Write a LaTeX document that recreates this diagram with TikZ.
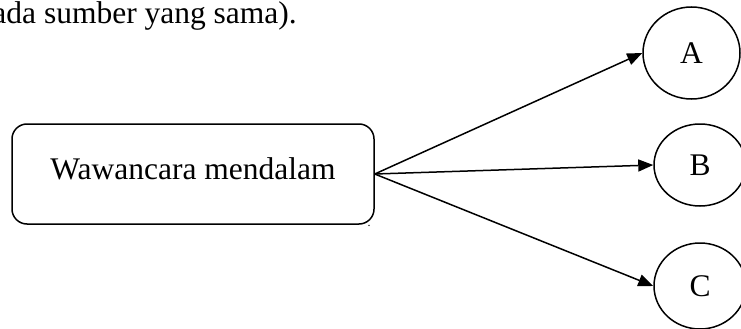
\documentclass[tikz,border=0pt]{standalone}
\usepackage{fontspec}
\setmainfont{Liberation Serif}
\usetikzlibrary{arrows.meta,shapes.geometric}
\tikzset{
  every picture/.style={x=1pt,y=1pt},
  txt/.style={font=\fontsize{31.5}{36}\selectfont, inner sep=0pt},
  srcbox/.style={draw, line width=1.5pt, rounded corners=15pt, rectangle,
    minimum width=362pt, minimum height=100pt, inner sep=0pt,
    text height=25pt, text depth=15pt, font=\fontsize{31.5}{36}\selectfont},
  target/.style={draw, line width=1.5pt, ellipse, inner sep=0pt,
    font=\fontsize{31.5}{36}\selectfont},
  link/.style={line width=1.5pt, -{Triangle[length=15pt,width=12pt]}}
}
\begin{document}
\begin{tikzpicture}
  \clip (0,0) rectangle (741,-329);
  % trailing line of the paragraph above the figure
  \node[txt, anchor=base east] (caption) at (297,-24) {ada sumber yang sama).};
  % source box
  \node[srcbox] (src) at (193,-174) {Wawancara mendalam};
  \node[font=\fontsize{12}{14}\selectfont, inner sep=0pt, anchor=base] (dot) at (369,-226) {.};
  % targets
  \node[target, minimum width=97pt, minimum height=92pt] (A) at (691.5,-53) {A};
  \node[target, minimum width=92pt, minimum height=82pt] (B) at (700,-165) {B};
  \node[target, minimum width=92pt, minimum height=86pt] (C) at (700,-286) {C};
  % connectors
  \draw[link] (src.east) -- (A.west);
  \draw[link] (src.east) -- (B.west);
  \draw[link] (src.east) -- (C.west);
\end{tikzpicture}
\end{document}
